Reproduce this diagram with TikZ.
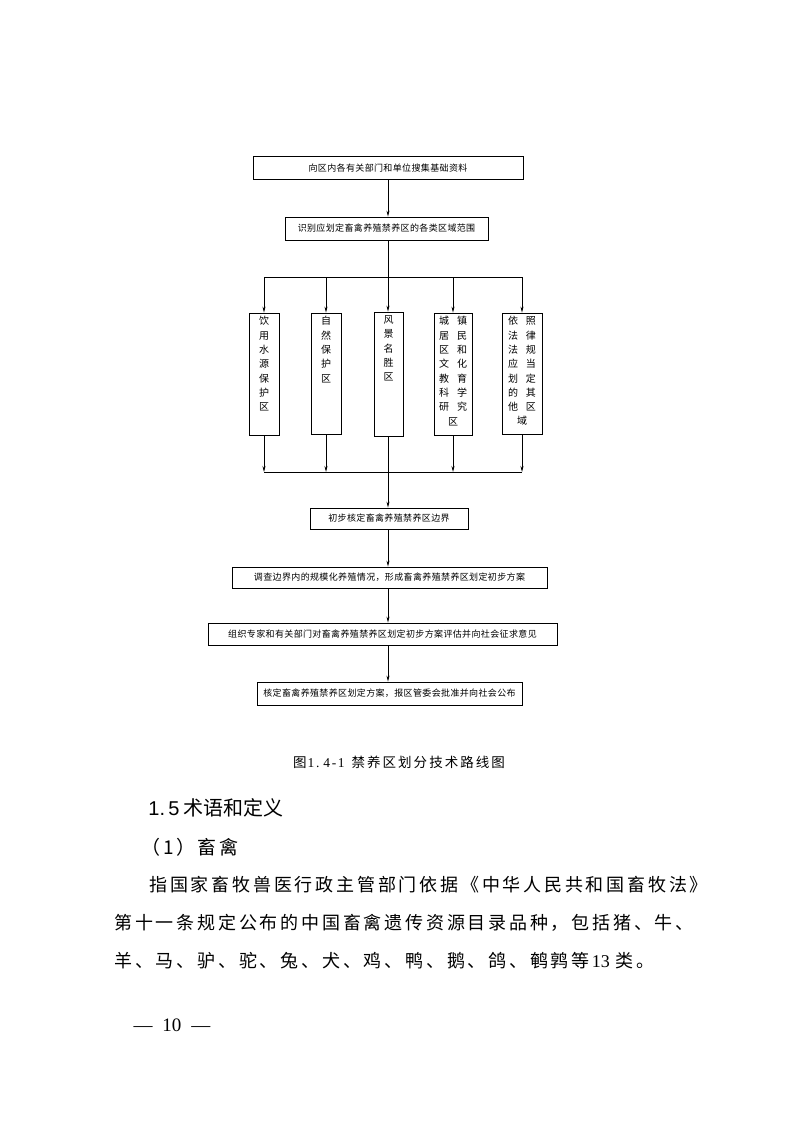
\documentclass[tikz,border=0pt]{standalone}
\usepackage{fontspec}
\setmainfont{Noto Sans CJK SC}
\newfontfamily\cjk{Noto Sans CJK SC}
\newfontfamily\latinsans{Liberation Sans}
\newfontfamily\latinserif{Liberation Serif}
\usetikzlibrary{arrows.meta}
\newcommand{\pr}[2]{#1\hspace{8pt}#2}
\newcommand{\vbx}[3]{\parbox[c][#1][t]{#2}{\centering\vspace*{3.5pt}#3\par}}
\begin{document}
\begin{tikzpicture}[x=1pt,y=-1pt,
  line width=0.8pt,
  hbox/.style={draw, inner sep=0pt, minimum height=23pt,
    font=\fontsize{9}{10}\selectfont\addfontfeature{LetterSpace=4}},
  vbox/.style={draw, inner sep=0pt,
    font=\fontsize{10}{14.3}\selectfont},
  arr/.style={-{Stealth[length=6pt,width=3pt]}},
  body/.style={anchor=west, inner sep=0pt,
    font=\fontsize{18}{20}\selectfont\addfontfeature{LetterSpace=15.5}}]
\useasboundingbox (0,0) rectangle (793,1122);
\coordinate (cx) at (388,0);
\coordinate (topbus) at (0,277);
\coordinate (botbus) at (0,472);

% horizontal boxes
\node[hbox, minimum width=270pt] (b1) at (388,168) {向区内各有关部门和单位搜集基础资料};
\node[hbox, minimum width=203pt] (b2) at (386.5,228.5) {识别应划定畜禽养殖禁养区的各类区域范围};

% vertical boxes
\node[vbox] (va) at (264,374) {\vbx{122pt}{30pt}{饮\\用\\水\\源\\保\\护\\区}};
\node[vbox] (vb) at (326,373.5) {\vbx{121pt}{30pt}{自\\然\\保\\护\\区}};
\node[vbox] (vc) at (388.5,374) {\vbx{124pt}{29pt}{风\\景\\名\\胜\\区}};
\node[vbox] (vd) at (453,374) {\vbx{122pt}{38pt}{\pr{城}{镇}\\\pr{居}{民}\\\pr{区}{和}\\\pr{文}{化}\\\pr{教}{育}\\\pr{科}{学}\\\pr{研}{究}\\区\hspace{18pt}}};
\node[vbox] (ve) at (522,373.5) {\vbx{121pt}{40pt}{\pr{依}{照}\\\pr{法}{律}\\\pr{法}{规}\\\pr{应}{当}\\\pr{划}{定}\\\pr{的}{其}\\\pr{他}{区}\\域\hspace{18pt}}};

\node[hbox, minimum width=158pt, minimum height=21pt] (b3) at (389,518.5) {初步核定畜禽养殖禁养区边界};
\node[hbox, minimum width=315pt, minimum height=21pt] (b4) at (389.5,577.5) {调查边界内的规模化养殖情况，形成畜禽养殖禁养区划定初步方案};
\node[hbox, minimum width=349pt, minimum height=22pt] (b5) at (382.5,634) {组织专家和有关部门对畜禽养殖禁养区划定初步方案评估并向社会征求意见};
\node[hbox, minimum width=265pt, minimum height=23pt] (b6) at (389.5,693.5) {核定畜禽养殖禁养区划定方案，报区管委会批准并向社会公布};

% connectors
\draw[arr] (b1.south -| cx) -- (b2.north -| cx);
\draw[arr] (b2.south -| cx) -- (vc.north -| cx);
\draw (va.north |- topbus) -- (ve.north |- topbus);
\foreach \n in {va,vb,vd,ve} \draw[arr] (\n.north |- topbus) -- (\n.north);
\foreach \n in {va,vb,vd,ve} \draw[arr] (\n.south) -- (\n.south |- botbus);
\draw (va.south |- botbus) -- (ve.south |- botbus);
\draw[arr] (vc.south -| cx) -- (b3.north -| cx);
\draw[arr] (b3.south -| cx) -- (b4.north -| cx);
\draw[arr] (b4.south -| cx) -- (b5.north -| cx);
\draw[arr] (b5.south -| cx) -- (b6.north -| cx);

% caption
\node[inner sep=0pt, font=\fontsize{13.5}{15}\selectfont\addfontfeature{LetterSpace=15}] (cap) at (399,762) {图\hspace{1pt}{\latinserif\addfontfeature{LetterSpace=12}1.\hspace{4pt}4-1}\hspace{7pt}禁养区划分技术路线图};

% text below
\node[anchor=west, inner sep=0pt, font=\fontsize{20}{22}\selectfont] (h1) at (148,808) {{\latinsans 1.\,5}\hspace{4pt}术语和定义};
\node[anchor=west, inner sep=0pt, font=\fontsize{19}{21}\selectfont\addfontfeature{LetterSpace=14}] (h2) at (141,847) {（1）畜禽};
\node[body] (l1) at (149,885) {指国家畜牧兽医行政主管部门依据《中华人民共和国畜牧法》};
\node[body] (l2) at (114,923) {第十一条规定公布的中国畜禽遗传资源目录品种，包括猪、牛、};
\node[body] (l3) at (114,961) {羊、马、驴、驼、兔、犬、鸡、鸭、鹅、鸽、鹌鹑等\hspace{2pt}{\latinserif 13}\hspace{6pt}类。};

\node[inner sep=0pt, font=\latinserif\fontsize{19}{21}\selectfont] (pg) at (172,1025) {—\hspace{10pt}10\hspace{10pt}—};
\end{tikzpicture}
\end{document}
